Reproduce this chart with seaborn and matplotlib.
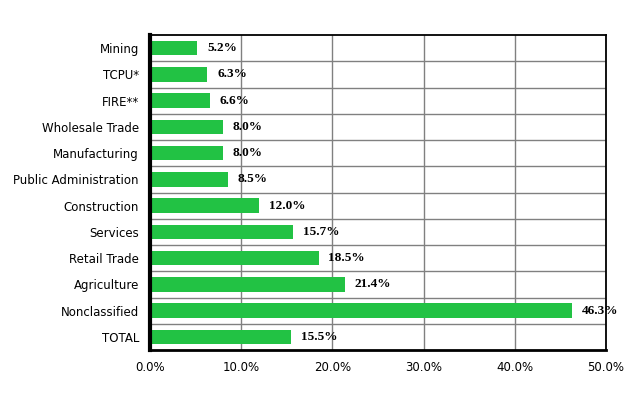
import matplotlib
matplotlib.use("Agg")
import matplotlib.pyplot as plt
import seaborn as sns
import numpy as np
import pandas as pd

categories = ["Mining", "TCPU*", "FIRE**", "Wholesale Trade", "Manufacturing",
              "Public Administration", "Construction", "Services", "Retail Trade",
              "Agriculture", "Nonclassified", "TOTAL"]
values = [5.2, 6.3, 6.6, 8.0, 8.0, 8.5, 12.0, 15.7, 18.5, 21.4, 46.3, 15.5]
xticks = [0, 10, 20, 30, 40, 50]
xtick_labels = ["0.0%", "10.0%", "20.0%", "30.0%", "40.0%", "50.0%"]

sns.set_theme(style="white")
plt.rcParams['font.family'] = ['DejaVu Sans']
plt.rcParams['text.color'] = 'black'

df = pd.DataFrame({"cat": categories, "val": values})

fig = plt.figure(figsize=(6.4, 4.0), dpi=100)
ax = fig.add_axes([150/640, 1-350/400, (606-150)/640, (350-35)/400])

sns.barplot(data=df, x="val", y="cat", orient="h", color="#22C244",
            saturation=1, width=0.55, ax=ax, zorder=3, linewidth=0,
            edgecolor="none")

ax.set_xlim(0, 50)
ax.set_ylim(len(categories)-0.5, -0.5)
ax.set_xticks(xticks)
ax.set_xticklabels(xtick_labels, fontsize=8.5, color="black")
ax.set_yticks(range(len(categories)))
ax.set_yticklabels(categories, fontsize=8.5, color="black")
ax.set_xlabel("")
ax.set_ylabel("")
ax.tick_params(axis="x", length=0, pad=8)
ax.tick_params(axis="y", length=0, pad=8)

ax.set_yticks(np.arange(0.5, len(categories)-1, 1), minor=True)
ax.grid(False)
ax.grid(axis="y", which="minor", color="#808080", linewidth=1, zorder=1)
ax.grid(axis="x", which="major", color="#808080", linewidth=1, zorder=1)
ax.tick_params(axis="y", which="minor", length=0)

for s in ["top", "right"]:
    ax.spines[s].set_visible(True)
    ax.spines[s].set_color("black")
    ax.spines[s].set_linewidth(1.3)
ax.spines["left"].set_color("black")
ax.spines["left"].set_linewidth(3)
ax.spines["bottom"].set_color("black")
ax.spines["bottom"].set_linewidth(2)
for s in ax.spines.values():
    s.set_zorder(6)

for i, v in enumerate(values):
    ax.annotate(f"{v:.1f}%", xy=(v, i), xytext=(7, 0), textcoords="offset points",
                va="center", ha="left", fontsize=9.5, fontweight="bold",
                color="black", family=["Liberation Serif"], zorder=5,
                annotation_clip=False)

fig.savefig("out.png", dpi=100)
